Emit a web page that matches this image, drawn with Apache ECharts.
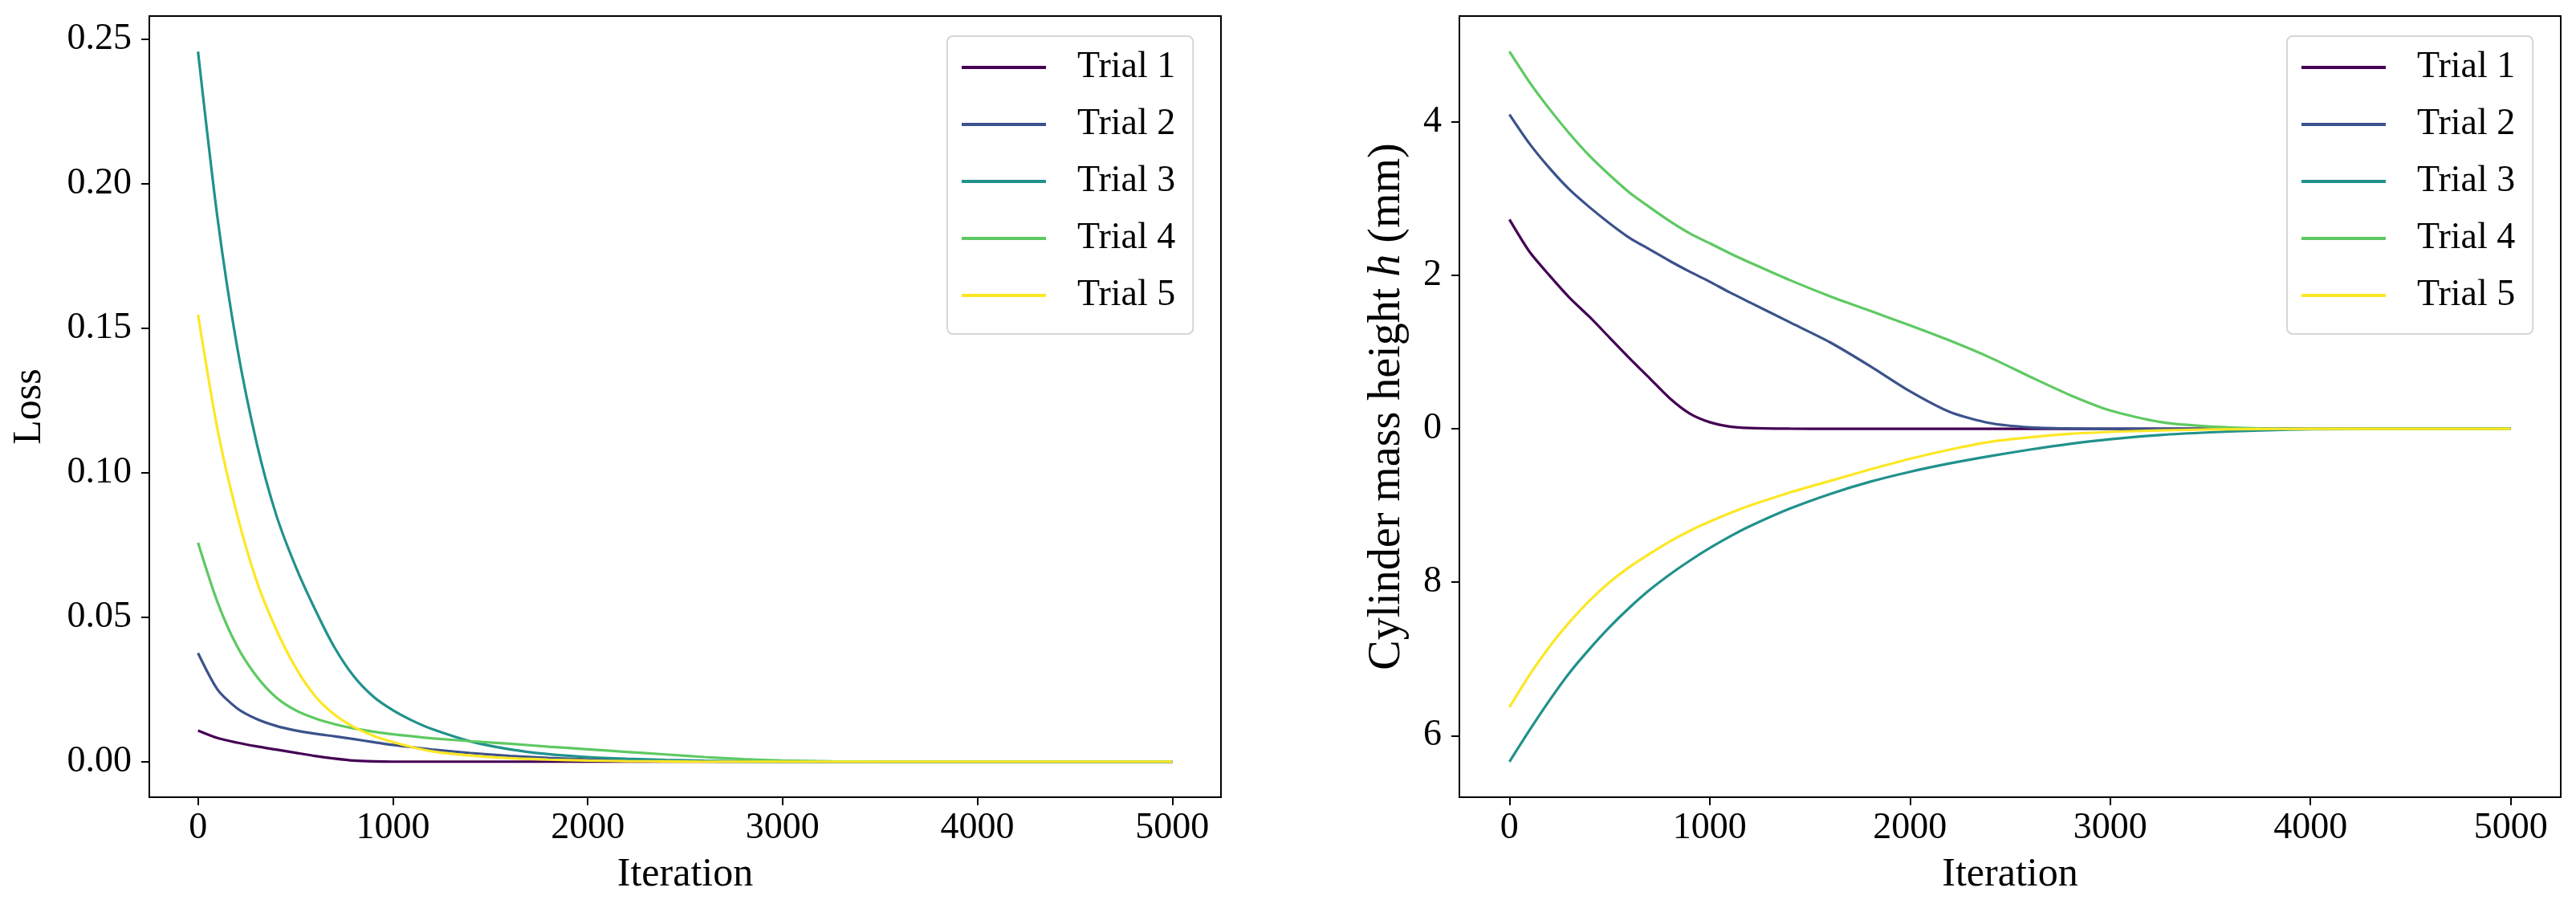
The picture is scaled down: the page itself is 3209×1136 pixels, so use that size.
<!DOCTYPE html>
<html>
<head>
<meta charset="utf-8">
<title>Loss and cylinder mass height</title>
<script src="https://cdn.jsdelivr.net/npm/echarts@6.0.0/dist/echarts.min.js"></script>
<style>
  html, body { margin: 0; padding: 0; background: #fff; }
  #main { width: 3209px; height: 1136px; }
</style>
</head>
<body>
<div id="main"></div>
<script>
// iterations shared by every trial
var iterations = [0, 100, 200, 300, 400, 500, 600, 700, 800, 900, 1000, 1100, 1200, 1400, 1600, 1800,
	2000, 2200, 2400, 2600, 2800, 3000, 3250, 3500, 3750, 4000, 4500, 5000];

var trialNames = ['Trial 1', 'Trial 2', 'Trial 3', 'Trial 4', 'Trial 5'];
var trialColors = ['#440154', '#3b528b', '#21918c', '#5ec962', '#fde725'];

// left panel: loss
var lossTrial1 = [0.0108, 0.0082, 0.0066, 0.0053, 0.0042, 0.0031, 0.0020, 0.0011, 0.0004, 0.0001, 0, 0, 0, 0, 0, 0,
	0, 0, 0, 0, 0, 0, 0, 0, 0, 0, 0, 0];
var lossTrial2 = [0.0376, 0.0250, 0.0185, 0.0148, 0.0124, 0.0108, 0.0097, 0.0088, 0.0078, 0.0068, 0.0058, 0.0050, 0.0042, 0.0030, 0.0020, 0.0013,
	0.0008, 0.0005, 0.0003, 0.0001, 0, 0, 0, 0, 0, 0, 0, 0];
var lossTrial3 = [0.2458, 0.1882, 0.1438, 0.1106, 0.0857, 0.0677, 0.0528, 0.0396, 0.0295, 0.0225, 0.0178, 0.0142, 0.0113, 0.0070, 0.0043, 0.0026,
	0.0016, 0.0010, 0.0006, 0.0003, 0.0001, 0, 0, 0, 0, 0, 0, 0];
var lossTrial4 = [0.0758, 0.0552, 0.0400, 0.0296, 0.0223, 0.0178, 0.0150, 0.0130, 0.0115, 0.0104, 0.0095, 0.0088, 0.0081, 0.0071, 0.0062, 0.0052,
	0.0043, 0.0034, 0.0025, 0.0016, 0.0009, 0.0004, 0.0001, 0, 0, 0, 0, 0];
var lossTrial5 = [0.1547, 0.1150, 0.0857, 0.0627, 0.0460, 0.0327, 0.0228, 0.0163, 0.0120, 0.0090, 0.0068, 0.0050, 0.0036, 0.0021, 0.0012, 0.0007,
	0.0004, 0.0002, 0.0001, 0, 0, 0, 0, 0, 0, 0, 0, 0];

// right panel: cylinder mass height h (mm)
var heightTrial1 = [2.73, 2.31, 2.00, 1.71, 1.46, 1.19, 0.92, 0.66, 0.40, 0.20, 0.087, 0.03, 0.012, 0.003, 0, 0,
	0, 0, 0, 0, 0, 0, 0, 0, 0, 0, 0, 0];
var heightTrial2 = [4.10, 3.72, 3.40, 3.12, 2.89, 2.68, 2.49, 2.34, 2.19, 2.05, 1.92, 1.78, 1.65, 1.39, 1.13, 0.82,
	0.49, 0.22, 0.075, 0.02, 0.005, 0, 0, 0, 0, 0, 0, 0];
var heightTrial3 = [-4.34, -3.93, -3.54, -3.18, -2.87, -2.585, -2.33, -2.10, -1.90, -1.72, -1.555, -1.405, -1.27, -1.04, -0.85, -0.69,
	-0.56, -0.45, -0.355, -0.27, -0.195, -0.135, -0.08, -0.045, -0.02, -0.005, 0, 0];
var heightTrial4 = [4.92, 4.52, 4.17, 3.85, 3.56, 3.31, 3.08, 2.89, 2.71, 2.55, 2.42, 2.29, 2.17, 1.94, 1.73, 1.54,
	1.35, 1.15, 0.93, 0.68, 0.44, 0.24, 0.09, 0.03, 0.007, 0, 0, 0];
var heightTrial5 = [-3.63, -3.21, -2.84, -2.52, -2.24, -2.00, -1.80, -1.63, -1.47, -1.33, -1.21, -1.10, -1.00, -0.83, -0.68, -0.53,
	-0.39, -0.27, -0.17, -0.11, -0.065, -0.04, -0.02, -0.008, -0.002, 0, 0, 0];

// tick labels
var iterTicks = [0, 1000, 2000, 3000, 4000, 5000];
var lossTicks = [0, 0.05, 0.10, 0.15, 0.20, 0.25];
var heightTicks = [-4, -2, 0, 2, 4];
var heightTickLabels = ['6', '8', '0', '2', '4'];

var lossData = [lossTrial1, lossTrial2, lossTrial3, lossTrial4, lossTrial5];
var heightData = [heightTrial1, heightTrial2, heightTrial3, heightTrial4, heightTrial5];

var FONT = '"Liberation Serif", "DejaVu Serif", serif';

// matplotlib style 5% margin around the data
function paddedRange(sets) {
	var mn = Infinity, mx = -Infinity;
	sets.forEach(function(s) {
		s.forEach(function(v) { if(v < mn) mn = v; if(v > mx) mx = v; });
	});
	var pad = (mx - mn) * 0.05;
	return [mn - pad, mx + pad];
}
var lossRange = paddedRange(lossData);
var heightRange = paddedRange(heightData);
var iterPad = (iterations[iterations.length - 1] - iterations[0]) * 0.05;

function xAxisFor(gridIndex) {
	return {
		type: 'value',
		gridIndex: gridIndex,
		min: iterations[0] - iterPad,
		max: iterations[iterations.length - 1] + iterPad,
		name: 'Iteration',
		nameLocation: 'middle',
		nameGap: 72,
		nameTextStyle: { fontFamily: FONT, fontSize: 50, color: '#000' },
		axisLine: { show: true, onZero: false, lineStyle: { color: '#000', width: 2 } },
		axisTick: { show: true, length: 10, lineStyle: { color: '#000', width: 2 }, customValues: iterTicks },
		axisLabel: {
			fontFamily: FONT, fontSize: 46, color: '#000', margin: 16, customValues: iterTicks,
			formatter: function(v) { return String(v); }
		},
		splitLine: { show: false }
	};
}

function legendFor(left) {
	return {
		orient: 'vertical',
		left: left,
		top: 45,
		data: trialNames,
		icon: 'rect',
		itemWidth: 105,
		itemHeight: 4,
		itemGap: 21,
		padding: [14, 22, 23, 18],
		backgroundColor: '#fff',
		borderColor: '#d6d6d6',
		borderWidth: 2,
		borderRadius: 7,
		textStyle: { fontFamily: FONT, fontSize: 46, color: '#000', lineHeight: 50, padding: [0, 0, 0, 34] }
	};
}

var series = [];
function addSeries(sets, axisIndex) {
	sets.forEach(function(vals, i) {
		series.push({
			name: trialNames[i],
			type: 'line',
			xAxisIndex: axisIndex,
			yAxisIndex: axisIndex,
			symbol: 'none',
			showSymbol: false,
			smooth: 0.25,
			animation: false,
			lineStyle: { color: trialColors[i], width: 3.2 },
			itemStyle: { color: trialColors[i] },
			data: iterations.map(function(it, k) { return [it, vals[k]]; })
		});
	});
}
addSeries(lossData, 0);
addSeries(heightData, 1);

var myChart = echarts.init(document.getElementById('main'));
var option = {
	backgroundColor: '#fff',
	animation: false,
	textStyle: { fontFamily: FONT },
	grid: [
		{ left: 186, width: 1335, top: 20, bottom: 143, show: true, borderColor: '#000', borderWidth: 2, backgroundColor: 'transparent' },
		{ left: 1818, width: 1372, top: 20, bottom: 143, show: true, borderColor: '#000', borderWidth: 2, backgroundColor: 'transparent' }
	],
	legend: [legendFor(1180), legendFor(2849)],
	xAxis: [xAxisFor(0), xAxisFor(1)],
	yAxis: [{
		type: 'value',
		gridIndex: 0,
		min: lossRange[0],
		max: lossRange[1],
		name: 'Loss',
		nameLocation: 'middle',
		nameGap: 124,
		nameTextStyle: { fontFamily: FONT, fontSize: 50, color: '#000' },
		axisLine: { show: true, onZero: false, lineStyle: { color: '#000', width: 2 } },
		axisTick: { show: true, length: 10, lineStyle: { color: '#000', width: 2 }, customValues: lossTicks },
		axisLabel: {
			fontFamily: FONT, fontSize: 46, color: '#000', margin: 22, customValues: lossTicks,
			formatter: function(v) { return v.toFixed(2); }
		},
		splitLine: { show: false }
	}, {
		type: 'value',
		gridIndex: 1,
		min: heightRange[0],
		max: heightRange[1],
		name: 'Cylinder mass height {i|h} (mm)',
		nameLocation: 'middle',
		nameGap: 62,
		nameTextStyle: {
			fontFamily: FONT, fontSize: 56, color: '#000',
			rich: { i: { fontFamily: FONT, fontSize: 56, fontStyle: 'italic', color: '#000' } }
		},
		axisLine: { show: true, onZero: false, lineStyle: { color: '#000', width: 2 } },
		axisTick: { show: true, length: 10, lineStyle: { color: '#000', width: 2 }, customValues: heightTicks },
		axisLabel: {
			fontFamily: FONT, fontSize: 46, color: '#000', margin: 22, customValues: heightTicks,
			formatter: function(v) {
				var k = heightTicks.indexOf(v);
				return k >= 0 ? heightTickLabels[k] : '';
			}
		},
		splitLine: { show: false }
	}],
	series: series
};
myChart.setOption(option);
</script>
</body>
</html>
